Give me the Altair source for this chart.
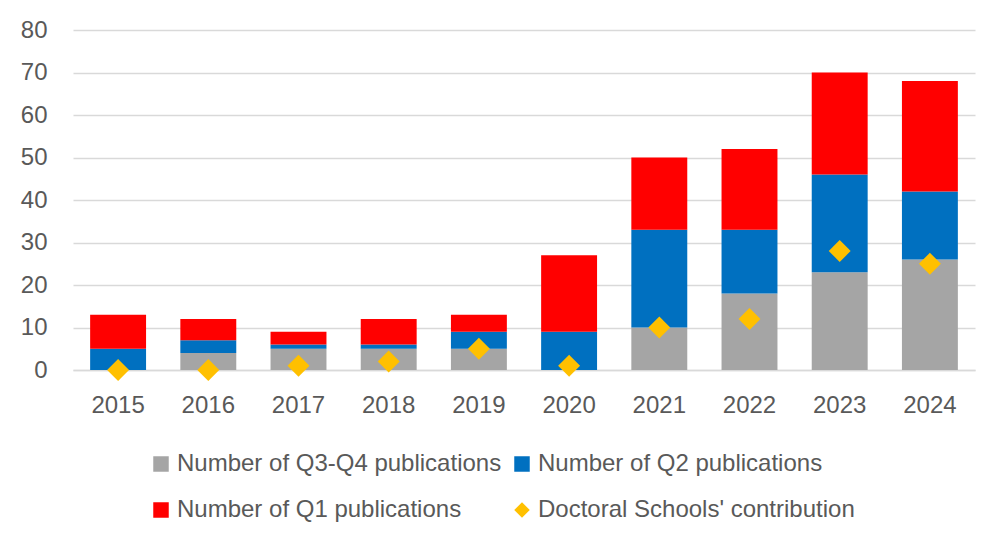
import altair as alt
import pandas as pd

years = ["2015", "2016", "2017", "2018", "2019", "2020", "2021", "2022", "2023", "2024"]
q34 = [0, 4, 5, 5, 5, 0, 10, 18, 23, 26]
q2 = [5, 3, 1, 1, 4, 9, 23, 15, 23, 16]
q1 = [8, 5, 3, 6, 4, 18, 17, 19, 24, 26]
doctoral = [0, 0, 1, 2, 5, 1, 10, 12, 28, 25]

series_names = [
    "Number of Q3-Q4 publications",
    "Number of Q2 publications",
    "Number of Q1 publications",
    "Doctoral Schools' contribution",
]
colors = ["#A5A5A5", "#0070C0", "#FF0000", "#FFC000"]
shapes = ["square", "square", "square", "diamond"]

rows = []
for i, y in enumerate(years):
    for k, vals in enumerate([q34, q2, q1]):
        rows.append({"year": y, "series": series_names[k], "value": vals[i], "ord": k})
bars_df = pd.DataFrame(rows)
pts_df = pd.DataFrame({"year": years, "series": series_names[3], "value": doctoral})

FONT = "Liberation Sans"
TXT = "#595959"

color_scale = alt.Scale(domain=series_names, range=colors)
shape_scale = alt.Scale(domain=series_names, range=shapes)

legend = alt.Legend(
    title=None,
    orient="none",
    legendX=76,
    legendY=422,
    columns=2,
    direction="horizontal",
    labelFont=FONT,
    labelFontSize=24,
    labelColor=TXT,
    symbolSize=240,
    symbolStrokeWidth=0,
    symbolOpacity=1,
    labelOffset=4,
    columnPadding=8,
    rowPadding=22,
    labelLimit=500,
)

x_axis = alt.Axis(
    labelAngle=0,
    labelFont=FONT,
    labelFontSize=24,
    labelColor=TXT,
    labelPadding=23,
    ticks=False,
    domainColor="#D9D9D9",
    domainWidth=1.5,
    grid=False,
)
y_axis = alt.Axis(
    values=list(range(0, 81, 10)),
    labelFont=FONT,
    labelFontSize=24,
    labelColor=TXT,
    labelPadding=26,
    ticks=False,
    domain=False,
    gridColor="#D9D9D9",
    gridWidth=1.5,
)

x_scale = alt.Scale(paddingInner=0.38, paddingOuter=0.19)
y_scale = alt.Scale(domain=[0, 80], nice=False)

bars = alt.Chart(bars_df).mark_bar().encode(
    x=alt.X("year:N", sort=years, title=None, scale=x_scale, axis=x_axis),
    y=alt.Y("sum(value):Q", title=None, scale=y_scale, stack="zero", axis=y_axis),
    color=alt.Color("series:N", scale=color_scale, legend=legend),
    order=alt.Order("ord:Q", sort="ascending"),
)

points = alt.Chart(pts_df).mark_point(filled=True, opacity=1, size=480).encode(
    x=alt.X("year:N", sort=years, title=None, scale=x_scale, axis=x_axis),
    y=alt.Y("value:Q", scale=y_scale, title=None, axis=y_axis),
    color=alt.Color("series:N", scale=color_scale, legend=legend),
    shape=alt.Shape("series:N", scale=shape_scale, legend=legend),
)

chart = (
    alt.layer(bars, points)
    .properties(
        width=902,
        height=340,
        background="white",
        autosize=alt.AutoSizeParams(type="none"),
        padding={"left": 65, "top": 22, "right": 20, "bottom": 166},
    )
    .configure_view(stroke=None, strokeWidth=0)
)

chart.save("out.html", embed_options={"renderer": "svg", "actions": False})
